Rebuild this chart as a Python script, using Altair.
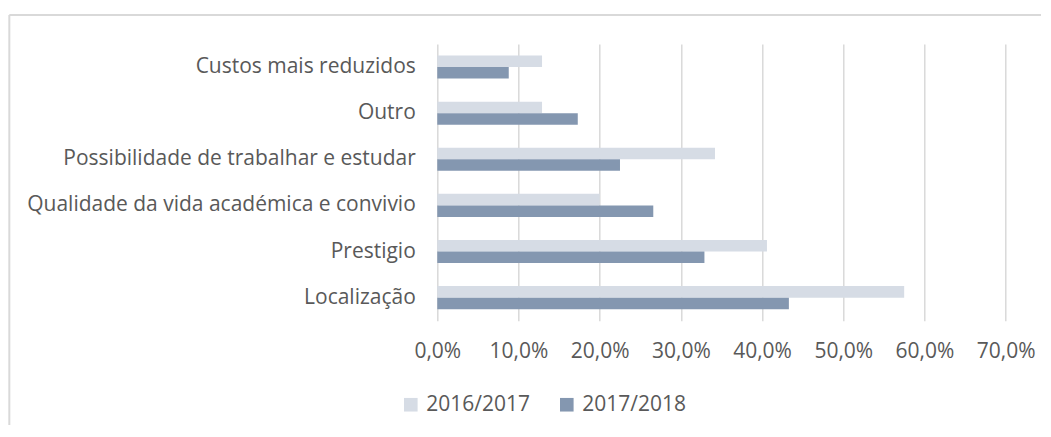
import altair as alt
import pandas as pd

categories = [
    "Custos mais reduzidos",
    "Outro",
    "Possibilidade de trabalhar e estudar",
    "Qualidade da vida académica e convivio",
    "Prestigio",
    "Localização",
]
series = ["2016/2017", "2017/2018"]
v2016 = [12.9, 12.9, 34.2, 20.0, 40.6, 57.5]
v2017 = [8.8, 17.3, 22.5, 26.6, 32.9, 43.3]
ticks = [0, 10, 20, 30, 40, 50, 60, 70]
colors = ["#D6DCE5", "#8497B0"]

rows = []
for c, a, b in zip(categories, v2016, v2017):
    rows.append({"cat": c, "serie": series[0], "val": a})
    rows.append({"cat": c, "serie": series[1], "val": b})
df = pd.DataFrame(rows)

font = "Open Sans"
fs = 21
txt = "#595959"
grid = "#D9D9D9"

bars = alt.Chart(df).mark_bar().encode(
    y=alt.Y(
        "cat:N",
        sort=categories,
        scale=alt.Scale(paddingInner=0.5, paddingOuter=0.25),
        axis=alt.Axis(
            title=None, domain=False, ticks=False, tickSize=0, labelPadding=22,
            labelFontSize=fs, labelColor=txt, labelFont=font, labelLimit=600,
        ),
    ),
    yOffset=alt.YOffset("serie:N", sort=series, scale=alt.Scale(paddingInner=0, paddingOuter=0)),
    x=alt.X(
        "val:Q",
        scale=alt.Scale(domain=[0, 70], nice=False),
        axis=alt.Axis(
            values=ticks, title=None, domain=False, ticks=False, tickSize=0,
            grid=True, gridColor=grid, gridWidth=1.5, labelFlush=False,
            labelOverlap=False,
            labelExpr="replace(format(datum.value,'.1f'),'.',',') + '%'",
            labelPadding=20, labelFontSize=fs, labelColor=txt, labelFont=font,
        ),
    ),
    color=alt.Color(
        "serie:N",
        sort=series,
        scale=alt.Scale(domain=series, range=colors),
        legend=alt.Legend(
            title=None, orient="none", legendX=-37, legendY=350, direction="horizontal",
            symbolType="square", symbolSize=185, symbolStrokeWidth=0,
            labelFontSize=fs, labelColor=txt, labelFont=font, labelOffset=5,
            columnPadding=26,
        ),
    ),
)

frame_df = pd.DataFrame({"k": [0]})
top_line = alt.Chart(frame_df).mark_rule(color=grid, strokeWidth=2).encode(
    x=alt.value(-428), x2=alt.value(620), y=alt.value(-29)
)
left_line = alt.Chart(frame_df).mark_rule(color=grid, strokeWidth=2).encode(
    x=alt.value(-428), y=alt.value(-29), y2=alt.value(400)
)

chart = alt.layer(bars, top_line, left_line).properties(
    width=568.4,
    height=276.7,
    autosize=alt.AutoSizeParams(type="none"),
    padding={"left": 429.3, "top": 36, "right": 35, "bottom": 104},
).configure_view(stroke=None)

chart.save("out.html", embed_options={"renderer": "svg", "actions": False})
